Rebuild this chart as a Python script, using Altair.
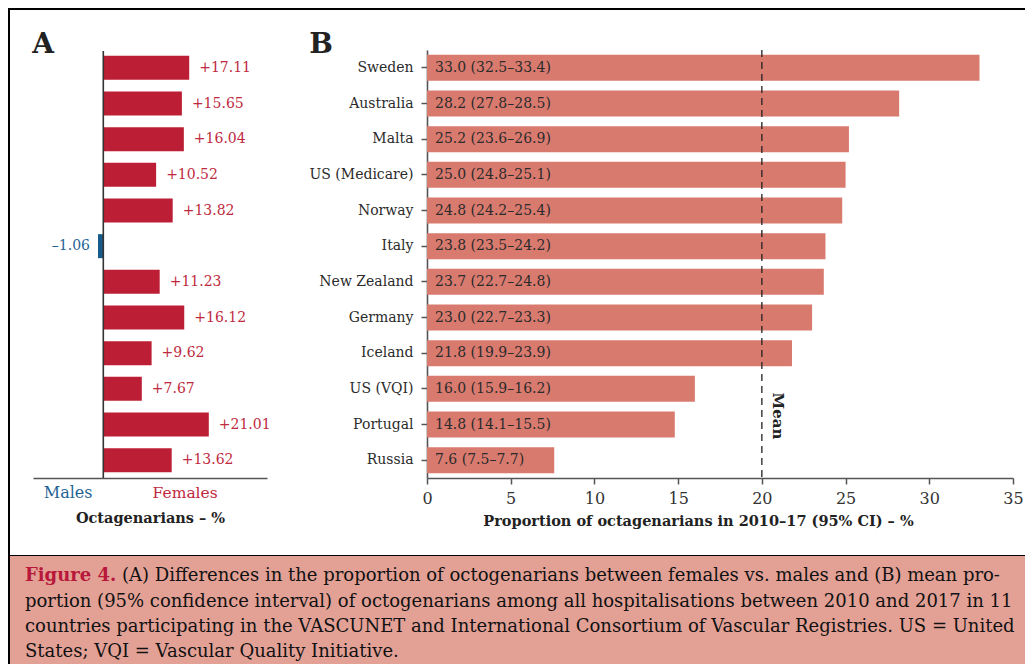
import altair as alt
import pandas as pd

# ---------------- data ----------------
countries = ["Sweden", "Australia", "Malta", "US (Medicare)", "Norway", "Italy",
             "New Zealand", "Germany", "Iceland", "US (VQI)", "Portugal", "Russia"]
proportion = [33.0, 28.2, 25.2, 25.0, 24.8, 23.8, 23.7, 23.0, 21.8, 16.0, 14.8, 7.6]
ci_low = [32.5, 27.8, 23.6, 24.8, 24.2, 23.5, 22.7, 22.7, 19.9, 15.9, 14.1, 7.5]
ci_high = [33.4, 28.5, 26.9, 25.1, 25.4, 24.2, 24.8, 23.3, 23.9, 16.2, 15.5, 7.7]
sex_diff = [17.11, 15.65, 16.04, 10.52, 13.82, -1.06, 11.23, 16.12, 9.62, 7.67, 21.01, 13.62]
mean_value = 20
b_ticks = [0, 5, 10, 15, 20, 25, 30, 35]
b_domain = [0, 35]
a_domain = [-14, 32.6]

caption_label = "Figure 4."
caption_lines = [
    "(A) Differences in the proportion of octogenarians between females vs. males and (B) mean pro-",
    "portion (95% confidence interval) of octogenarians among all hospitalisations between 2010 and 2017 in 11",
    "countries participating in the VASCUNET and International Consortium of Vascular Registries. US = United",
    "States; VQI = Vascular Quality Initiative.",
]

df = pd.DataFrame({
    "country": countries,
    "proportion": proportion,
    "diff": sex_diff,
    "label_b": [f"{p:.1f} ({l:.1f}–{h:.1f})" for p, l, h in zip(proportion, ci_low, ci_high)],
    "label_a": [f"+{d:.2f}" if d >= 0 else f"–{abs(d):.2f}" for d in sex_diff],
})

# ---------------- style ----------------
W, H = 1017, 656
FONT = "DejaVu Serif"
CAP_FONT = "DejaVu Serif"
CAP_SIZE = 18.0
RED = "#bc1f35"
BLUE = "#165b8a"
SALMON = "#d97a6f"
PINK = "#e3a196"
AXIS = "#555555"
TXT = "#2b2b2b"

one = alt.Data(values=[{}])

scale_b = alt.Scale(domain=b_domain, range=[419, 1005], nice=False, zero=False)
scale_a = alt.Scale(domain=a_domain, range=[25, 259], nice=False, zero=False)

y_enc = alt.Y(
    "country:N", sort=countries,
    scale=alt.Scale(range=[42, 470], paddingInner=0.27, paddingOuter=0.135),
    axis=alt.Axis(title=None, orient="left", offset=-419, domainColor=AXIS,
                  domainWidth=1.6, tickColor=AXIS, tickWidth=1.5, tickSize=6,
                  labelPadding=8, labelFont=FONT, labelFontSize=14,
                  labelColor=TXT, grid=False),
)

axis_b = alt.Axis(orient="bottom", offset=-(H - 470), values=b_ticks, grid=False,
                  domainColor=AXIS, domainWidth=1.6, tickColor=AXIS, tickWidth=1.5,
                  tickSize=6, labelFont=FONT, labelFontSize=16, labelColor="#333",
                  labelPadding=6, labelFlush=False,
                  title="Proportion of octagenarians in 2010–17 (95% CI) – %",
                  titleFont=FONT, titleFontSize=14.5, titleFontWeight="bold",
                  titleColor="#222", titleX=690, titleAlign="center", titlePadding=8)

axis_a = alt.Axis(orient="bottom", offset=-(H - 470), grid=False, ticks=False, labels=False,
                  domainColor=AXIS, domainWidth=1.6,
                  title="Octagenarians – %", titleFont=FONT, titleFontSize=14.5,
                  titleFontWeight="bold", titleColor="#222", titlePadding=33)

base = alt.Chart(df)

# caption box and frame
caption_box = alt.Chart(one).mark_rect(color=PINK).encode(
    x=alt.value(2), x2=alt.value(W), y=alt.value(548), y2=alt.value(H))
frame_top = alt.Chart(one).mark_rule(color="black", strokeWidth=2).encode(
    x=alt.value(0), x2=alt.value(W), y=alt.value(1))
frame_left = alt.Chart(one).mark_rule(color="black", strokeWidth=2).encode(
    x=alt.value(1), y=alt.value(0), y2=alt.value(H))
frame_bottom = alt.Chart(one).mark_rule(color="black", strokeWidth=1.2).encode(
    x=alt.value(0), x2=alt.value(W), y=alt.value(547.5))

# panel B
bars_b = base.mark_bar(color=SALMON).encode(
    x=alt.X("proportion:Q", scale=scale_b, axis=axis_b), y=y_enc)
labels_b = base.mark_text(align="left", baseline="middle", dx=8, font=FONT,
                          fontSize=14, color=TXT).encode(
    x=alt.XDatum(0, scale=scale_b, axis=None), y=y_enc, text="label_b:N")
mean_rule = alt.Chart(one).mark_rule(color="#222", strokeWidth=1.3, strokeDash=[7, 5]).encode(
    x=alt.XDatum(mean_value, scale=scale_b, axis=None), y=alt.value(42), y2=alt.value(470))
mean_text = alt.Chart(one).mark_text(text="Mean", angle=90, align="center", baseline="middle",
                                     font=FONT, fontSize=15, fontWeight="bold", color="#222").encode(
    x=alt.XDatum(mean_value + 0.95, scale=scale_b, axis=None), y=alt.value(408))

# panel A
bars_a = base.mark_bar(size=24).encode(
    x=alt.X("diff:Q", scale=scale_a, axis=axis_a), y=y_enc,
    color=alt.condition(alt.datum.diff >= 0, alt.value(RED), alt.value(BLUE)))
labels_a_pos = base.transform_filter(alt.datum.diff >= 0).mark_text(
    align="left", baseline="middle", dx=10, font=FONT, fontSize=14, color="#c02a40").encode(
    x=alt.X("diff:Q", scale=scale_a, axis=None), y=y_enc, text="label_a:N")
labels_a_neg = base.transform_filter(alt.datum.diff < 0).mark_text(
    align="right", baseline="middle", dx=-8, font=FONT, fontSize=14, color="#1f6496").encode(
    x=alt.X("diff:Q", scale=scale_a, axis=None), y=y_enc, text="label_a:N")
axis_line_a = alt.Chart(one).mark_rule(color="#333", strokeWidth=1.6).encode(
    x=alt.XDatum(0, scale=scale_a, axis=None), y=alt.value(43), y2=alt.value(470))
males_txt = alt.Chart(one).mark_text(text="Males", align="center", baseline="middle",
                                     font=FONT, fontSize=16, color="#1f6496").encode(
    x=alt.XDatum(a_domain[0] / 2, scale=scale_a, axis=None), y=alt.value(485))
females_txt = alt.Chart(one).mark_text(text="Females", align="center", baseline="middle",
                                       font=FONT, fontSize=15.5, color="#c02a40").encode(
    x=alt.XDatum(a_domain[1] / 2, scale=scale_a, axis=None), y=alt.value(485))

letter_a = alt.Chart(one).mark_text(text="A", align="center", baseline="alphabetic",
                                    font=FONT, fontSize=28, fontWeight="bold", color="#222").encode(
    x=alt.value(35), y=alt.value(45))
letter_b = alt.Chart(one).mark_text(text="B", align="center", baseline="alphabetic",
                                    font=FONT, fontSize=28, fontWeight="bold", color="#222").encode(
    x=alt.value(313), y=alt.value(45))

# caption text
cap_layers = [
    alt.Chart(one).mark_text(text=caption_label, align="left", baseline="alphabetic",
                             font=CAP_FONT, fontSize=CAP_SIZE, fontWeight="bold", color="#b8183a").encode(
        x=alt.value(17), y=alt.value(573))
]
cap_x = [114, 17, 17, 17]
cap_y = [573, 599, 624, 649]
for line, cx, cy in zip(caption_lines, cap_x, cap_y):
    cap_layers.append(
        alt.Chart(one).mark_text(text=line, align="left", baseline="alphabetic",
                                 font=CAP_FONT, fontSize=CAP_SIZE, color="#111").encode(
            x=alt.value(cx), y=alt.value(cy)))

chart = alt.layer(
    caption_box, frame_top, frame_left, frame_bottom,
    bars_b, labels_b, mean_rule, mean_text,
    bars_a, labels_a_pos, labels_a_neg, axis_line_a, males_txt, females_txt,
    letter_a, letter_b, *cap_layers,
).resolve_scale(x="independent").resolve_axis(x="independent").properties(
    width=W, height=H, padding=0, autosize=alt.AutoSizeParams(type="none"),
    background="white",
).configure_view(stroke=None)

chart.save("out.html", embed_options={"renderer": "svg", "actions": False})
